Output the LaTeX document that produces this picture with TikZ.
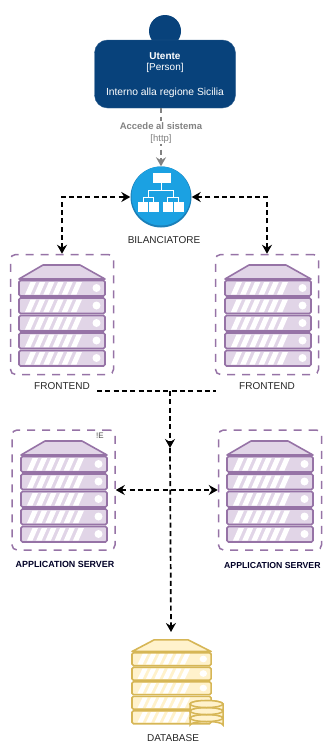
\documentclass[tikz,border=0pt]{standalone}
\usepackage{fontspec}
\setmainfont{Liberation Sans}
\usetikzlibrary{arrows.meta}
\usetikzlibrary{positioning}

\definecolor{personblue}{HTML}{08427B}
\definecolor{balancerblue}{HTML}{1BA1E2}
\definecolor{balancerdark}{HTML}{1A7FB8}
\definecolor{rackline}{HTML}{9673A6}
\definecolor{rackfill}{HTML}{E1D5E7}
\definecolor{dbline}{HTML}{D6B656}
\definecolor{dbfill}{HTML}{FFF2CC}
\definecolor{linkgray}{HTML}{828282}

\tikzset{
  groupbox/.style={draw=rackline, line width=1.5pt, dash pattern=on 8pt off 7pt, rounded corners=5pt,
    minimum width=103pt, minimum height=120pt, inner sep=0pt},
  caption/.style={inner sep=0pt, font=\fontsize{10}{12}\selectfont, text=black!85},
  appcaption/.style={inner sep=0pt, font=\fontsize{8.9}{11}\selectfont\bfseries, text=black!85!blue},
  link/.style={draw=black, line width=1.7pt, dash pattern=on 5pt off 3.3pt},
  tips/.style={{Stealth[length=9pt,width=10pt,inset=3pt]}-{Stealth[length=9pt,width=10pt,inset=3pt]}},
  tip/.style={-{Stealth[length=9pt,width=10pt,inset=3pt]}},
  pics/rackstack/.style args={#1/#2}{code={
    \draw[line width=1.6pt, draw=#1, fill=#2, line join=round]
      (0,0) -- (24,-14) -- (61,-14) -- (86,0) -- cycle;
    \foreach \rackrow in {0,1,2,3,4}{
      \begin{scope}[yshift=-\rackrow*17.5pt]
        \draw[line width=1.6pt, draw=#1, fill=#2, rounded corners=1.5pt] (0,1.5) rectangle (86,17);
        \foreach \slat in {0,1,2,3,4,5}
          \fill[white] (6+\slat*9.2,15.5) -- (11.5+\slat*9.2,15.5) -- (17+\slat*9.2,3) -- (11.5+\slat*9.2,3) -- cycle;
        \fill[white] (77.5,9) circle (4);
      \end{scope}
    }
  }}
}

\begin{document}
\begin{tikzpicture}[x=1pt, y=-1pt]
  \useasboundingbox (0,0) rectangle (322,744);

  % person
  \fill[personblue] (165,31) circle (16);
  \node[draw=personblue!85!white, fill=personblue, rounded corners=13pt, minimum width=141pt, minimum height=68pt,
    inner sep=0pt] (person) at (165,74) {};
  \node[inner sep=0pt, text=white, font=\fontsize{10}{12}\selectfont\bfseries] (personname) at (165,56) {Utente};
  \node[inner sep=0pt, text=white, font=\fontsize{10}{12}\selectfont] (personkind) at (165,68) {[Person]};
  \node[inner sep=0pt, text=white, font=\fontsize{10.3}{12}\selectfont] (persondesc) at (165,93) {Interno alla regione Sicilia};

  % balancer
  \node[circle, fill=balancerdark, minimum size=61pt, inner sep=0pt] (balancer) at (161,197) {};
  \fill[balancerblue] (161,196) circle (29.5);
  \node[caption] (balancername) at (164,240) {BILANCIATORE};
  \draw[white, line width=0.9pt] (161.7,183) -- (161.7,190) (148.5,197) -- (148.5,190) -- (173,190) -- (173,197)
    (143.5,202) -- (143.5,197) -- (153.5,197) -- (153.5,202)
    (167.5,202) -- (167.5,197) -- (178.5,197) -- (178.5,202);
  \fill[white] (152.7,172.7) rectangle (170.7,183);
  \foreach \leafx in {138,149,163,174}
    \fill[white] (\leafx,202) rectangle (\leafx+9.5,212);

  % groups
  \node[groupbox] (frontA) at (62,314.5) {};
  \node[groupbox] (frontB) at (267,314.5) {};
  \node[groupbox] (appA) at (63.5,490) {};
  \node[groupbox] (appB) at (270,490) {};

  \pic at (19,279) {rackstack={rackline/rackfill}};
  \pic at (225,279) {rackstack={rackline/rackfill}};
  \pic at (21,455) {rackstack={rackline/rackfill}};
  \pic at (227,455) {rackstack={rackline/rackfill}};
  \pic[xscale=0.92, yscale=0.83] at (132,651.5) {rackstack={dbline/dbfill}};

  % small disks
  \foreach \disky in {718,711,704}{
    \draw[line width=1.5pt, draw=dbline, fill=dbfill] (190,\disky) -- (190,\disky+7)
      arc[x radius=16.5, y radius=3.5, start angle=180, end angle=360] -- (223,\disky)
      arc[x radius=16.5, y radius=3.5, start angle=0, end angle=-180];
    \draw[line width=1.5pt, draw=dbline, fill=dbfill] (206.5,\disky) ellipse[x radius=16.5, y radius=3.5];
  }

  \node[caption] (frontAname) at (62,386) {FRONTEND};
  \node[caption] (frontBname) at (267,386) {FRONTEND};
  \node[appcaption] (appAname) at (65,564.5) {APPLICATION SERVER};
  \node[appcaption, anchor=west, font=\fontsize{8.7}{11}\selectfont\bfseries] (appBname) at (224,565.5) {APPLICATION SERVER};
  \node[inner sep=0pt, font=\fontsize{8}{10}\selectfont, text=black!70] (stray) at (100,435.5) {!E};
  \node[caption] (dbname) at (173,738) {DATABASE};

  % links
  \coordinate (dbtop) at (171,632);
  \coordinate (busL) at (97,391);
  \coordinate (busR) at (216,391);
  \coordinate (busM) at (170,391);
  \coordinate (busT) at (170,448);
  \draw[link, tips] (frontA.north) |- (balancer.west);
  \draw[link, tips] (frontB.north) |- (balancer.east);
  \draw[link] (busL) -- (busR);
  \draw[link, tip] (busM) -- (busT);
  \draw[link, tip] (busT) -- (dbtop);
  \draw[link, tips] (appA.east) -- (appB.west);

  % person link
  \draw[draw=linkgray, line width=1.7pt, dash pattern=on 5pt off 3.3pt, tip] (person.south -| balancer) -- (balancer.north)
    node[pos=0.42, fill=white, inner sep=1pt, text=linkgray, align=center, font=\fontsize{9.5}{12}\selectfont]
    (linklabel) {\textbf{Accede al sistema}\\{}[http]};
\end{tikzpicture}
\end{document}
